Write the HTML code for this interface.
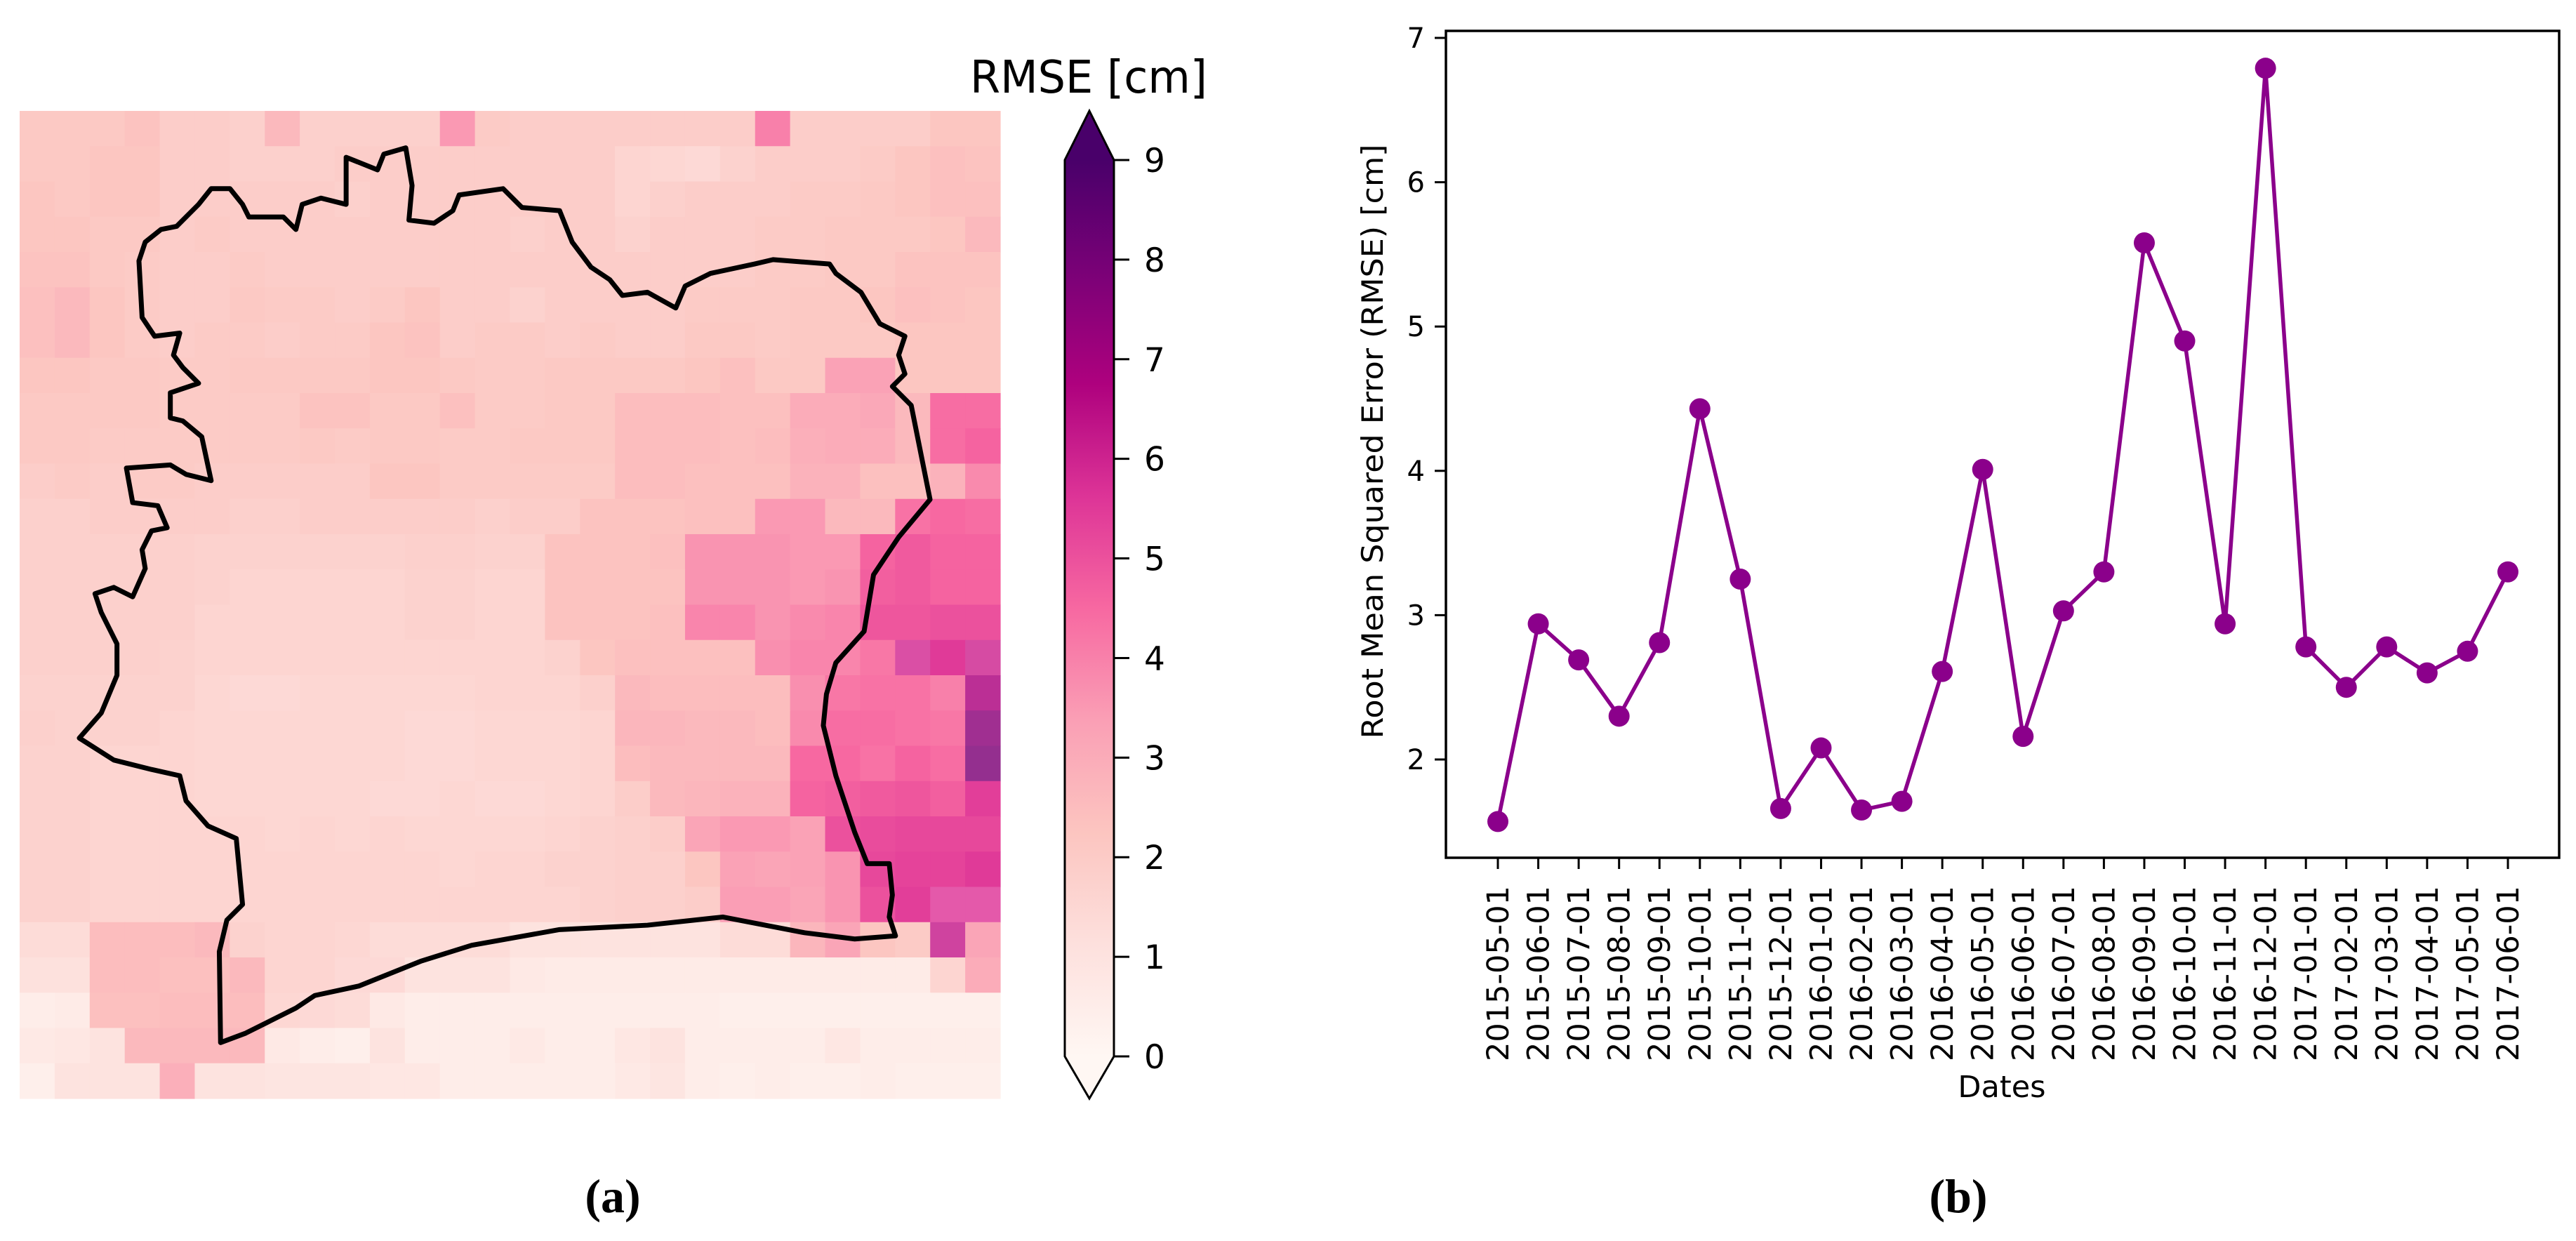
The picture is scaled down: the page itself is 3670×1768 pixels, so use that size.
<!DOCTYPE html>
<html><head><meta charset="utf-8">
<style>
html,body{margin:0;padding:0;background:#fff;}
svg{display:block;}
text{font-family:"DejaVu Sans","Liberation Sans",sans-serif;fill:#000;}
.cap{font-family:"Liberation Serif",serif;font-weight:bold;}
</style></head>
<body>
<svg id="fig" xmlns="http://www.w3.org/2000/svg" width="3670" height="1768" viewBox="0 0 3670 1768">
  <g id="map"></g>
  <g id="border" transform="translate(28,157) scale(0.8945)">
    <path id="borderPath" fill="none" stroke="#000" stroke-width="7" vector-effect="non-scaling-stroke" stroke-linejoin="round"
      d="M320,1485 L318,1340 L330,1290 L355,1265 L345,1160 L300,1140 L265,1100 L255,1060 L210,1050 L150,1035 L95,1000 L130,960 L155,900 L155,850 L130,800 L120,770 L150,760 L180,775 L200,730 L195,700 L210,670 L235,665 L220,630 L180,625 L170,570 L240,565 L265,580 L305,590 L290,520 L260,495 L240,490 L240,450 L285,435 L260,410 L245,390 L255,355 L215,360 L195,330 L190,240 L200,210 L225,190 L250,185 L285,150 L305,125 L335,125 L355,150 L365,170 L420,170 L440,190 L450,150 L480,140 L520,150 L520,75 L570,95 L580,70 L615,60 L625,120 L620,175 L660,180 L690,160 L700,135 L770,125 L800,155 L860,160 L880,210 L910,250 L940,270 L960,295 L1000,290 L1045,315 L1060,280 L1100,260 L1170,245 L1200,238 L1290,245 L1300,260 L1340,290 L1370,340 L1410,360 L1400,390 L1410,420 L1390,440 L1420,470 L1450,620 L1400,680 L1360,740 L1345,830 L1300,880 L1285,930 L1280,980 L1300,1060 L1330,1150 L1350,1200 L1385,1200 L1390,1250 L1385,1285 L1395,1315 L1330,1320 L1250,1310 L1120,1285 L1000,1298 L860,1305 L720,1330 L640,1355 L540,1395 L470,1410 L440,1430 L400,1450 L360,1470 Z"/>
  </g>
  <g id="colorbar"></g>
  <g id="chart"></g>
  <text class="cap" x="873" y="1727" font-size="68" text-anchor="middle">(a)</text>
  <text class="cap" x="2790" y="1727" font-size="68" text-anchor="middle">(b)</text>
</svg>
<script>
// ---------- Map data (28 x 28 RMSE grid, cm) ----------
const mapRows = [
[2.1,2.1,2.1,2.3,1.9,1.9,1.8,2.6,1.8,1.8,1.8,1.8,3.5,2.0,1.9,1.9,1.9,1.9,1.9,1.9,1.9,4.0,1.9,1.9,1.9,1.9,2.2,2.2],
[2.1,2.1,2.2,2.2,1.9,1.9,1.8,1.8,1.8,1.9,1.9,1.9,1.9,1.9,1.9,1.9,1.9,1.6,1.5,1.4,1.7,1.9,1.9,1.9,2.0,2.2,2.4,2.3],
[2.2,2.1,2.2,2.2,1.9,1.9,1.9,1.9,1.9,1.8,1.9,1.9,1.9,1.9,1.9,1.9,1.9,1.6,1.8,1.9,1.9,1.9,2.0,2.0,2.1,2.2,2.4,2.4],
[2.2,2.2,2.1,2.1,1.9,2.0,1.9,1.9,1.9,1.9,1.9,1.9,1.9,1.9,1.8,1.9,1.9,1.7,1.9,1.9,1.9,2.0,2.0,2.1,2.1,2.1,2.2,2.6],
[2.3,2.3,2.1,2.0,1.9,1.9,2.0,1.9,1.9,1.9,1.9,1.9,1.9,1.9,1.9,1.9,1.9,1.9,1.9,1.9,1.9,2.0,2.0,2.1,2.1,2.3,2.3,2.3],
[2.4,2.6,2.2,2.0,1.9,1.9,2.1,2.0,2.0,1.9,2.0,2.2,1.9,1.9,1.7,1.9,1.9,1.9,1.9,2.0,2.0,2.0,2.1,2.1,2.2,2.4,2.3,2.2],
[2.4,2.6,2.2,2.0,1.9,2.0,2.0,1.9,2.0,2.0,2.2,2.3,1.9,2.0,2.0,1.9,2.0,1.9,1.9,2.1,2.1,2.0,2.1,2.1,2.1,2.2,2.2,2.2],
[2.2,2.2,2.1,2.1,2.0,2.0,2.1,2.1,2.1,2.1,2.2,2.2,2.1,2.0,2.0,2.1,2.1,2.1,2.1,2.2,2.4,2.1,2.1,3.3,3.3,2.2,2.2,2.2],
[2.1,2.1,2.1,2.1,2.0,2.0,2.0,2.0,2.3,2.3,2.1,2.1,2.4,2.0,2.0,2.1,2.1,2.5,2.5,2.5,2.4,2.4,3.0,3.0,3.1,2.6,4.4,4.4],
[2.1,2.1,2.0,2.0,2.0,2.0,2.0,2.0,2.1,2.0,2.1,2.1,2.0,2.0,2.1,2.1,2.1,2.5,2.5,2.5,2.4,2.5,2.9,3.0,3.0,2.6,4.4,4.6],
[1.9,2.0,1.9,2.0,2.0,1.9,1.9,1.9,1.9,1.9,2.2,2.2,2.0,2.0,2.0,2.0,2.0,2.5,2.5,2.4,2.4,2.4,2.8,2.8,2.4,2.4,2.8,3.8],
[1.8,1.8,1.9,1.9,1.9,1.9,1.8,1.8,1.9,1.9,1.9,1.9,1.9,1.8,1.9,1.9,2.3,2.3,2.3,2.4,2.4,3.5,3.5,2.6,2.6,4.3,4.5,4.4],
[1.8,1.8,1.8,1.8,1.8,1.7,1.7,1.7,1.7,1.7,1.7,1.8,1.8,1.7,1.7,2.3,2.3,2.3,2.4,3.6,3.6,3.6,3.5,3.5,4.6,4.8,4.6,4.6],
[1.8,1.8,1.8,1.8,1.8,1.7,1.6,1.6,1.6,1.6,1.6,1.7,1.7,1.6,1.6,2.3,2.3,2.3,2.3,3.6,3.6,3.6,3.5,3.6,4.7,4.8,4.6,4.6],
[1.8,1.8,1.8,1.8,1.8,1.6,1.6,1.6,1.6,1.6,1.6,1.7,1.7,1.6,1.6,2.3,2.3,2.3,2.4,3.9,3.9,3.6,3.8,3.9,4.9,4.9,5.0,5.0],
[1.8,1.8,1.8,1.8,1.7,1.6,1.6,1.6,1.6,1.6,1.6,1.6,1.6,1.6,1.6,1.7,2.2,2.4,2.4,2.4,2.4,3.7,3.9,3.9,4.2,5.9,5.5,6.0],
[1.7,1.7,1.7,1.7,1.7,1.5,1.4,1.4,1.5,1.5,1.5,1.5,1.5,1.6,1.6,1.6,1.8,2.6,2.5,2.5,2.5,2.5,3.7,4.2,4.3,4.3,4.0,6.8],
[1.8,1.7,1.7,1.7,1.6,1.5,1.5,1.5,1.5,1.5,1.5,1.4,1.4,1.5,1.5,1.5,1.6,2.7,2.7,2.6,2.6,2.5,3.8,4.4,4.4,4.3,4.2,7.5],
[1.7,1.7,1.6,1.6,1.6,1.5,1.5,1.5,1.5,1.5,1.5,1.4,1.4,1.5,1.5,1.5,1.6,2.5,2.6,2.6,2.6,2.6,4.5,4.5,4.3,4.6,4.4,7.8],
[1.7,1.7,1.6,1.6,1.6,1.5,1.5,1.5,1.5,1.5,1.4,1.4,1.5,1.4,1.4,1.5,1.6,1.9,2.6,2.7,2.8,2.8,4.6,4.7,4.8,4.9,4.7,5.4],
[1.7,1.7,1.6,1.6,1.6,1.6,1.6,1.5,1.6,1.5,1.6,1.5,1.5,1.5,1.5,1.6,1.7,1.8,1.9,3.2,3.5,3.5,3.3,5.0,5.1,5.2,5.2,5.2],
[1.7,1.7,1.6,1.6,1.6,1.6,1.6,1.6,1.6,1.6,1.6,1.6,1.5,1.6,1.6,1.7,1.7,1.8,1.8,2.2,3.3,3.2,3.3,3.6,5.2,5.3,5.3,5.5],
[1.7,1.7,1.6,1.6,1.6,1.6,1.6,1.6,1.6,1.6,1.6,1.6,1.6,1.6,1.6,1.6,1.7,1.8,1.8,1.9,3.4,3.4,3.2,3.6,5.0,5.4,5.6,5.6],
[1.3,1.3,2.5,2.5,2.5,2.6,1.7,1.6,1.6,1.5,1.3,1.3,1.3,1.3,1.0,1.0,1.0,1.0,1.0,1.0,1.3,1.3,2.7,3.2,2.2,2.0,6.2,3.2],
[1.1,1.1,2.5,2.5,2.4,2.4,2.6,1.6,1.6,1.4,1.4,1.0,1.0,1.0,0.7,0.6,0.6,0.6,0.6,0.6,0.6,0.6,0.6,0.6,0.6,0.6,1.6,3.0],
[0.5,0.6,2.4,2.4,2.5,2.5,2.5,1.5,1.4,1.3,0.7,0.5,0.5,0.5,0.5,0.5,0.5,0.5,0.5,0.5,0.4,0.4,0.4,0.4,0.4,0.4,0.4,0.4],
[0.7,0.8,1.0,2.6,2.6,2.6,2.6,0.7,0.5,0.4,1.0,0.5,0.5,0.5,0.7,0.5,0.5,0.8,1.0,0.5,0.5,0.5,0.5,0.8,0.5,0.5,0.5,0.5],
[0.4,1.0,1.0,1.0,2.9,1.0,1.0,0.9,0.9,0.9,0.8,0.8,0.5,0.5,0.5,0.5,0.5,0.7,0.9,0.5,0.4,0.5,0.4,0.4,0.5,0.4,0.4,0.4]
];
const cbarTicks = [0,1,2,3,4,5,6,7,8,9];

// ---------- Line chart data ----------
const dates = ["2015-05-01","2015-06-01","2015-07-01","2015-08-01","2015-09-01","2015-10-01","2015-11-01","2015-12-01",
"2016-01-01","2016-02-01","2016-03-01","2016-04-01","2016-05-01","2016-06-01","2016-07-01","2016-08-01","2016-09-01",
"2016-10-01","2016-11-01","2016-12-01","2017-01-01","2017-02-01","2017-03-01","2017-04-01","2017-05-01","2017-06-01"];
const rmseValues = [1.57,2.94,2.69,2.30,2.81,4.43,3.25,1.66,2.08,1.65,1.71,2.61,4.01,2.16,3.03,3.30,5.58,4.90,2.94,6.79,2.78,2.50,2.78,2.60,2.75,3.30];
const yTicks = [2,3,4,5,6,7];

const NS = "http://www.w3.org/2000/svg";
function mk(tag, attrs, parent){ const e=document.createElementNS(NS,tag); for(const k in attrs) e.setAttribute(k,attrs[k]); parent.appendChild(e); return e; }

const rdpu = ["#fff7f3","#fde0dd","#fcc5c0","#fa9fb5","#f768a1","#dd3497","#ae017e","#7a0177","#49006a"];
function hex2rgb(h){return [parseInt(h.substr(1,2),16),parseInt(h.substr(3,2),16),parseInt(h.substr(5,2),16)];}
function cmap(v){
  let f=Math.max(0,Math.min(1,v/9))*(rdpu.length-1);
  let i=Math.min(rdpu.length-2,Math.floor(f)); let t=f-i;
  const a=hex2rgb(rdpu[i]), b=hex2rgb(rdpu[i+1]);
  return "rgb("+a.map((c,k)=>Math.round(c+(b[k]-c)*t)).join(",")+")";
}
// map cells are drawn slightly translucent (as in reference) for strong values
function mapColor(v){
  const c=cmap(v).match(/\d+/g).map(Number);
  const a = v>5.5 ? 0.82 : 1;
  return "rgb("+c.map(x=>Math.round(x*a+255*(1-a))).join(",")+")";
}

// ---------- Map ----------
const mapG=document.getElementById("map");
const mapX0=28, mapY0=158, mapW=1397, mapH=1407;
const nC=mapRows[0].length, nR=mapRows.length;
const cw=mapW/nC, ch=mapH/nR;
mapRows.forEach((row,r)=>row.forEach((v,c)=>{
  const rc=mk("rect",{x:(mapX0+c*cw).toFixed(2),y:(mapY0+r*ch).toFixed(2),width:(cw+0.6).toFixed(2),height:(ch+0.6).toFixed(2),fill:mapColor(v)},mapG);
  
  
}));

// ---------- Colorbar ----------
const cb=document.getElementById("colorbar");
const cbL=1517, cbR=1587, cbTop=228, cbBot=1505;
function cbY(v){return cbBot-(v-0)/(9-0)*(cbBot-cbTop);}
const defs=mk("defs",{},cb);
const grad=mk("linearGradient",{id:"rdpuGrad",x1:"0",y1:"1",x2:"0",y2:"0"},defs);
rdpu.forEach((c,i)=>mk("stop",{offset:(i/(rdpu.length-1)).toFixed(3),"stop-color":c},grad));
const cbRect=mk("rect",{x:cbL,y:cbTop,width:cbR-cbL,height:cbBot-cbTop,fill:"url(#rdpuGrad)"},cb);


const upTri=mk("polygon",{points:`${cbL},${cbTop} ${(cbL+cbR)/2},158 ${cbR},${cbTop}`,fill:"#49006a"},cb);


const dnTri=mk("polygon",{points:`${cbL},${cbBot} ${(cbL+cbR)/2},1565 ${cbR},${cbBot}`,fill:"#fff7f3"},cb);


const outline=mk("path",{d:`M${cbL},${cbBot} L${cbL},${cbTop} L${(cbL+cbR)/2},158 L${cbR},${cbTop} L${cbR},${cbBot} L${(cbL+cbR)/2},1565 Z`,fill:"none",stroke:"#000","stroke-width":3},cb);


cbarTicks.forEach(t=>{
  const y=cbY(t);
  const tk=mk("line",{x1:cbR,y1:y,x2:cbR+22,y2:y,stroke:"#000","stroke-width":3},cb);
  
  
  const tl=mk("text",{x:1630,y:y+17,"font-size":47},cb);
  tl.textContent=String(t);
  
  
});
const cbt=mk("text",{x:1382,y:132,"font-size":64,textLength:338,lengthAdjust:"spacingAndGlyphs"},cb);
cbt.textContent="RMSE [cm]";



// ---------- Line chart ----------
const ch2=document.getElementById("chart");
const axL=2060, axR=3646, axT=44, axB=1222;
const x0=2134, dx=57.56;
function xs(i){return x0+i*dx;}
function ys(v){return 1082-(v-2)*205.6;}
const frame=mk("rect",{x:axL,y:axT,width:axR-axL,height:axB-axT,fill:"none",stroke:"#000","stroke-width":3.5},ch2);


yTicks.forEach(t=>{
  const y=ys(t);
  const tk=mk("line",{x1:axL-16,y1:y,x2:axL,y2:y,stroke:"#000","stroke-width":3},ch2);
  
  
  const tl=mk("text",{x:axL-30,y:y+14,"font-size":40,"text-anchor":"end"},ch2);
  tl.textContent=String(t);
  
  
});
dates.forEach((d,i)=>{
  const x=xs(i);
  const tk=mk("line",{x1:x,y1:axB,x2:x,y2:axB+16,stroke:"#000","stroke-width":3},ch2);
  
  
  const tl=mk("text",{transform:`translate(${x+15},1262) rotate(-90)`,"font-size":43,"text-anchor":"end",textLength:250,lengthAdjust:"spacingAndGlyphs"},ch2);
  tl.textContent=d;
  
  
});
const pts=rmseValues.map((v,i)=>xs(i).toFixed(1)+","+ys(v).toFixed(1)).join(" ");
const line=mk("polyline",{points:pts,fill:"none",stroke:"#8b008b","stroke-width":5.5,"stroke-linejoin":"round"},ch2);


rmseValues.forEach((v,i)=>{
  const c=mk("circle",{cx:xs(i),cy:ys(v),r:15,fill:"#8b008b"},ch2);
  
  
});
const yl=mk("text",{transform:"translate(1970,629) rotate(-90)","font-size":42,"text-anchor":"middle",textLength:847,lengthAdjust:"spacingAndGlyphs"},ch2);
yl.textContent="Root Mean Squared Error (RMSE) [cm]";


const xl=mk("text",{x:2852,y:1563,"font-size":43,"text-anchor":"middle"},ch2);
xl.textContent="Dates";


</script>
</body></html>
